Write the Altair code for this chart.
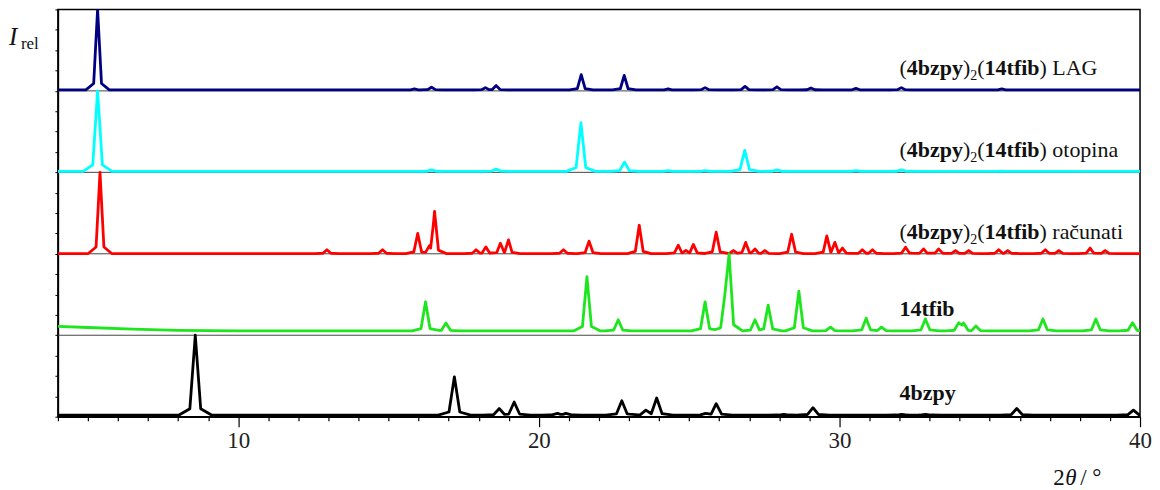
import altair as alt
import pandas as pd

# ---------------- data ----------------
# 2theta range of the axis
X_MIN, X_MAX = 4, 40

# (4bzpy)2(14tfib) LAG  - peak positions (deg) and heights (panel units)
lag_pos = [5.32, 15.86, 16.43, 18.22, 18.58, 21.41, 22.84, 24.30, 25.53, 26.86, 27.92, 29.05, 30.55, 32.06, 35.40]
lag_h = [1.00, 0.025, 0.045, 0.04, 0.065, 0.20, 0.19, 0.025, 0.04, 0.055, 0.05, 0.035, 0.03, 0.04, 0.025]

# (4bzpy)2(14tfib) otopina
oto_pos = [5.32, 16.43, 18.58, 21.40, 22.85, 24.30, 25.53, 26.85, 27.92, 30.55, 32.06, 35.40]
oto_h = [1.00, 0.03, 0.04, 0.61, 0.125, 0.02, 0.02, 0.27, 0.03, 0.02, 0.03, 0.015]

# (4bzpy)2(14tfib) računati
red_pos = [5.40, 12.95, 14.80, 15.97, 16.36, 16.53, 17.91, 18.24, 18.72, 18.99, 20.82, 21.67, 23.34,
           24.64, 24.89, 25.14, 25.90, 26.47, 26.88, 27.19, 27.52, 28.41, 29.58, 29.85, 30.10,
           30.76, 31.10, 32.20, 32.80, 33.30, 33.86, 34.30, 35.30, 35.60, 36.85, 37.30, 38.34, 38.84]
red_h = [1.00, 0.05, 0.05, 0.25, 0.10, 0.52, 0.05, 0.085, 0.13, 0.17, 0.05, 0.155, 0.35,
         0.105, 0.04, 0.115, 0.265, 0.04, 0.14, 0.06, 0.04, 0.24, 0.22, 0.14, 0.07,
         0.05, 0.05, 0.08, 0.06, 0.06, 0.04, 0.04, 0.05, 0.04, 0.05, 0.04, 0.07, 0.04]

# 14tfib (raised, sloping background at low angles)
grn_bg_x = [4.0, 5.0, 6.5, 8.0, 10.0]
grn_bg_y = [0.11, 0.095, 0.075, 0.06, 0.053]
grn_pos = [16.23, 16.91, 21.60, 22.64, 25.53, 26.20, 26.33, 27.19, 27.63, 28.65, 29.70,
           30.89, 31.40, 32.86, 33.97, 34.13, 34.54, 36.77, 38.53, 39.75]
grn_h = [0.41, 0.15, 0.72, 0.19, 0.41, 0.54, 1.00, 0.19, 0.37, 0.54, 0.10,
         0.21, 0.10, 0.20, 0.155, 0.15, 0.115, 0.20, 0.20, 0.155]

# 4bzpy
blk_pos = [8.57, 17.19, 18.68, 19.18, 20.62, 20.90, 22.76, 23.56, 23.92, 25.55, 25.90,
           28.15, 29.12, 32.08, 32.86, 35.90, 39.78]
blk_h = [1.00, 0.49, 0.10, 0.18, 0.04, 0.04, 0.195, 0.08, 0.23, 0.04, 0.16,
         0.03, 0.11, 0.03, 0.03, 0.10, 0.08]

series_keys = ["LAG", "otopina", "računati", "14tfib", "4bzpy"]
series_colors = ["#000080", "#00ffff", "#ff0000", "#1ee61e", "#000000"]

# ---------------- drawing helpers (style / layout) ----------------
PANEL_OFFSET = {"LAG": 4, "otopina": 3, "računati": 2, "14tfib": 1, "4bzpy": 0}
BASE = {"LAG": 0.012, "otopina": 0.012, "računati": 0.003, "14tfib": 0.053, "4bzpy": 0.02}
HALF_W = {"LAG": 0.13, "otopina": 0.16, "računati": 0.13, "14tfib": 0.15, "4bzpy": 0.18}
FOOT_MULT, FOOT_FRAC = 3.0, 0.12


def trace(key, pos, h, lead_x=None, lead_y=None):
    base, w = BASE[key], HALF_W[key]
    start = lead_x[-1] if lead_x else X_MIN
    xs = {start, X_MAX}
    for p in pos:
        for d in (0, -w, w, -FOOT_MULT * w, FOOT_MULT * w):
            xs.add(round(p + d, 4))
    xs = sorted(x for x in xs if start <= x <= X_MAX)
    rows = []
    if lead_x:
        for x, y in zip(lead_x[:-1], lead_y[:-1]):
            rows.append((x, y))
    for x in xs:
        v = 0.0
        for p, hh in zip(pos, h):
            a = hh - base
            d = abs(x - p)
            t1 = a * (1 - d / w) if d < w else 0.0
            t2 = FOOT_FRAC * a * (1 - d / (FOOT_MULT * w)) if d < FOOT_MULT * w else 0.0
            v = max(v, t1, t2)
        rows.append((x, base + v))
    off = PANEL_OFFSET[key]
    return pd.DataFrame({"x": [r[0] for r in rows], "y": [r[1] + off for r in rows], "series": key,
                         "idx": list(range(len(rows)))})


traces = pd.concat([
    trace("LAG", lag_pos, lag_h),
    trace("otopina", oto_pos, oto_h),
    trace("računati", red_pos, red_h),
    trace("14tfib", grn_pos, grn_h, grn_bg_x, grn_bg_y),
    trace("4bzpy", blk_pos, blk_h),
], ignore_index=True)

FONT = "Liberation Serif"
PX_PER_DEG = 1084 / 36
PX_PER_UNIT = 408 / 5

X_AXIS = alt.Axis(
    values=list(range(X_MIN, X_MAX + 1)),
    labelExpr="datum.value % 10 === 0 ? datum.label : ''",
    tickSize={"condition": {"test": "datum.value % 10 === 0", "value": 10}, "value": 4},
    labelOverlap=False, labelFlush=False, labelPadding=3,
    labelFont=FONT, labelFontSize=23, labelColor="#222",
    grid=False, title=None, domainColor="black", tickColor="black",
    domainWidth=1.5, tickWidth=1.2,
)
Y_AXIS = alt.Axis(values=[i * 0.25 for i in range(21)], labels=False, tickSize=3,
                  grid=False, title=None, domainColor="black", tickColor="black",
                  domainWidth=1.5, tickWidth=1)


def X(field="x"):
    return alt.X(f"{field}:Q", scale=alt.Scale(domain=[X_MIN, X_MAX], nice=False, zero=False), axis=X_AXIS)


def Y(field="y"):
    return alt.Y(f"{field}:Q", scale=alt.Scale(domain=[0, 5], nice=False, zero=False), axis=Y_AXIS)


# panel separator lines
sep = alt.Chart(pd.DataFrame({"y": [1, 2, 3, 4]})).mark_rule(color="#444", strokeWidth=1).encode(y=Y())

lines = alt.Chart(traces).mark_line(strokeWidth=2.8, clip=True, strokeJoin="round").encode(
    x=X(), y=Y(),
    color=alt.Color("series:N", scale=alt.Scale(domain=series_keys, range=series_colors), legend=None),
    order="idx:Q",
)

# ---------------- labels (mixed bold / subscript pieces) ----------------
LBL = 22
SUB = 14
EM_REG = {"(": .333, ")": .333, " ": .25}
EM_BOLD = {"4": .5, "b": .556, "z": .444, "p": .556, "y": .5, "1": .5, "t": .333, "f": .333, "i": .278}
LABEL_X = 32.0
LABEL_Y = {"LAG": 4.191, "otopina": 3.186, "računati": 2.181, "14tfib": 1.238, "4bzpy": 0.208}

pieces = []  # (x, y, text, style)
for key in ["LAG", "otopina", "računati"]:
    seq = [("(", "reg"), ("4bzpy", "bold"), (")", "reg"), ("2", "sub"), ("(", "reg"),
           ("14tfib", "bold"), (") " + key, "reg")]
    cur = 0.0
    for txt, st in seq:
        y = LABEL_Y[key] - (5 / PX_PER_UNIT if st == "sub" else 0)
        pieces.append((LABEL_X + cur / PX_PER_DEG, y, txt, st))
        if st == "bold":
            cur += sum(EM_BOLD[c] for c in txt) * LBL
        elif st == "sub":
            cur += 0.5 * SUB
        else:
            cur += sum(EM_REG.get(c, .5) for c in txt) * LBL
for key in ["14tfib", "4bzpy"]:
    pieces.append((LABEL_X, LABEL_Y[key], key, "bold"))

pdf = pd.DataFrame(pieces, columns=["x", "y", "text", "style"])


def text_layer(df, style, **kw):
    return alt.Chart(df[df["style"] == style]).mark_text(
        align="left", baseline="alphabetic", font=FONT, color="#111", **kw
    ).encode(x=X(), y=Y(), text="text:N")


t_reg = text_layer(pdf, "reg", fontSize=LBL)
t_bold = text_layer(pdf, "bold", fontSize=LBL, fontWeight="bold")
t_sub = text_layer(pdf, "sub", fontSize=SUB)

# axis titles: "I_rel" and "2θ / °"
ann = pd.DataFrame({
    "x": [2.373, 2.77, 37.11, 37.51, 38.01],
    "y": [4.559, 4.52, -0.833, -0.833, -0.833],
    "text": ["I", "rel", "2", "θ", "/ °"],
    "style": ["it_big", "rel", "reg", "it", "reg"],
})

a_I = text_layer(ann, "it_big", fontSize=25, fontStyle="italic")
a_rel = text_layer(ann, "rel", fontSize=17)
a_reg = text_layer(ann, "reg", fontSize=23)
a_it = text_layer(ann, "it", fontSize=23, fontStyle="italic")

chart = alt.layer(sep, lines, t_reg, t_bold, t_sub, a_I, a_rel, a_reg, a_it).properties(
    width=1084, height=408,
    padding={"left": 50, "top": 1, "right": 12, "bottom": 72},
    autosize=alt.AutoSizeParams(type="none"),
    background="white",
).configure_view(stroke="black", strokeWidth=1.5).configure_axis(
    labelFont=FONT, labelFontSize=23
).configure_text(font=FONT)

chart.save("out.html", embed_options={"renderer": "svg", "actions": False})
